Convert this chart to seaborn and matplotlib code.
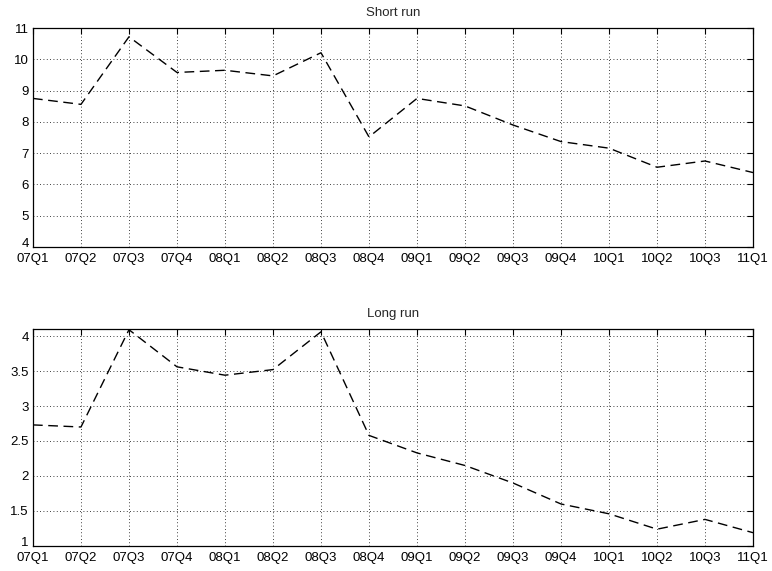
import numpy as np
import pandas as pd
import matplotlib
matplotlib.use("Agg")
import matplotlib.pyplot as plt
import seaborn as sns

quarters = ["07Q1", "07Q2", "07Q3", "07Q4", "08Q1", "08Q2", "08Q3", "08Q4",
            "09Q1", "09Q2", "09Q3", "09Q4", "10Q1", "10Q2", "10Q3", "11Q1"]
short_run = [8.75, 8.56, 10.72, 9.58, 9.65, 9.47, 10.21, 7.52,
             8.75, 8.51, 7.90, 7.37, 7.16, 6.55, 6.75, 6.38]
long_run = [2.73, 2.70, 4.09, 3.56, 3.44, 3.52, 4.06, 2.58,
            2.33, 2.15, 1.90, 1.60, 1.46, 1.24, 1.38, 1.19]

sns.set_style("white")
plt.rcParams['font.family'] = ['Liberation Sans', 'DejaVu Sans']

fig = plt.figure(figsize=(7.72, 5.71), dpi=100)
ax1 = fig.add_axes([0.0427, 0.5674, 0.9327, 0.3835])
ax2 = fig.add_axes([0.0427, 0.0438, 0.9327, 0.3800])

df = pd.DataFrame({"idx": np.arange(len(quarters)), "short": short_run, "long": long_run})

for ax, col, title, ylim, yticks, ylabels in [
    (ax1, "short", "Short run", (4, 11), np.arange(4, 12, 1), [str(v) for v in range(4, 12)]),
    (ax2, "long", "Long run", (1, 4.1), [1, 1.5, 2, 2.5, 3, 3.5, 4], ["1", "1.5", "2", "2.5", "3", "3.5", "4"]),
]:
    sns.lineplot(data=df, x="idx", y=col, ax=ax, color="black", linewidth=1.0)
    ax.lines[0].set_linestyle((0, (7, 4)))
    ax.set_xlim(0, len(quarters) - 1)
    ax.set_ylim(*ylim)
    ax.set_xticks(np.arange(len(quarters)))
    ax.set_xticklabels(quarters)
    ax.set_yticks(yticks)
    ax.set_yticklabels(ylabels)
    ax.get_yticklabels()[0].set_va("baseline")
    ax.set_xlabel("")
    ax.set_ylabel("")
    ax.set_title(title, fontsize=9.5, pad=9)
    ax.grid(True, color="black", linestyle=(0, (1, 3)), linewidth=0.6)
    ax.tick_params(direction="in", length=4, width=0.8, top=True, right=True,
                   labelsize=9.5, colors="black")
    ax.tick_params(axis="x", pad=4)
    ax.tick_params(axis="y", pad=3)
    for s in ax.spines.values():
        s.set_visible(True)
        s.set_color("black")
        s.set_linewidth(0.9)

fig.savefig("out.png", dpi=100)
